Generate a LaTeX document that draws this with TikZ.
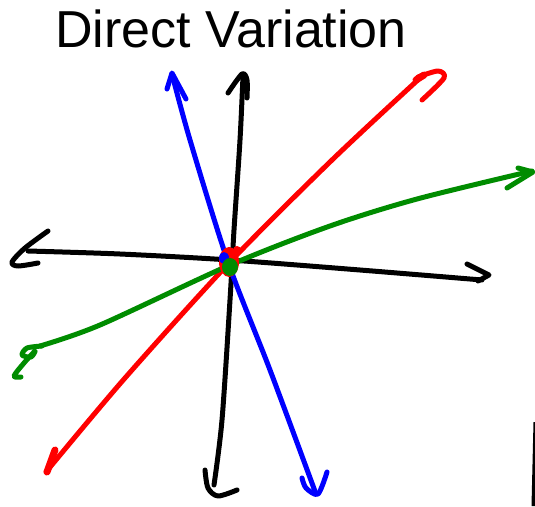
\documentclass[tikz,border=0pt]{standalone}
\usepackage{fontspec}
\setmainfont{Liberation Sans}
\definecolor{pgreen}{RGB}{0,140,0}
\begin{document}
\begin{tikzpicture}[x=1pt,y=-1pt,
  stroke/.style={line width=5pt, line cap=round, line join=round}]
\useasboundingbox (0,0) rectangle (535,506);
\node[anchor=base west, inner sep=0, font=\fontsize{52}{62}\selectfont] (title) at (55,47) {Direct Variation};

% black horizontal axis
\draw[stroke] plot[smooth] coordinates {(28,251) (120,254) (230,260) (360,270) (482,280)};
\draw[stroke] plot[smooth] coordinates {(48,231) (25,248) (12,262) (18,266) (38,263)};
\draw[stroke] (467,264) -- (489,275) -- (478,281);

% black vertical axis
\draw[stroke] plot[smooth] coordinates {(243,76) (240,140) (234,230) (230,300) (222,420) (214,485)};
\draw[stroke] plot[smooth] coordinates {(228,93) (242,74) (247,80) (247,98)};
\draw[stroke] plot[smooth] coordinates {(205,470) (208,488) (218,496) (237,490)};

% blue
\draw[stroke, blue] plot[smooth] coordinates {(172,74) (190,140) (228,262) (270,370) (316,494)};
\draw[stroke, blue] (167,89) -- (172,73) -- (186,99);
\draw[stroke, blue] plot[smooth] coordinates {(302,478) (306,488) (318,494) (327,472)};

% red
\draw[stroke, red] plot[smooth] coordinates {(46,472) (125,378) (230,262) (332,160) (420,78)};
\draw[stroke, red] plot[smooth] coordinates {(418,77) (438,71) (444,78) (422,100)};
\draw[red, line width=7pt, line cap=round] (416,80) -- (424,75);
\draw[red, line width=7pt, line cap=round] (55,450) -- (47,472);

% green
\draw[stroke, pgreen] plot[smooth] coordinates {(40,346) (100,325) (230,265) (330,226) (417,199) (532,171)};
\draw[stroke, pgreen] (518,168) -- (533,172) -- (507,188);
\draw[stroke, pgreen] plot[smooth] coordinates {(42,346) (27,348) (22,355) (31,357) (35,351) (24,363) (14,376) (21,377)};

% centre blobs
\fill[red] (229,262) ellipse [x radius=10, y radius=15];
\fill[red] (237,250) circle (4);
\fill[blue] (224,258) ellipse [x radius=5, y radius=6];
\fill[pgreen] (230,267) ellipse [x radius=8, y radius=9];

% stray mark at right edge
\fill (533.5,422) -- (535,422) -- (535,506) -- (531.5,506) -- cycle;
\end{tikzpicture}
\end{document}
